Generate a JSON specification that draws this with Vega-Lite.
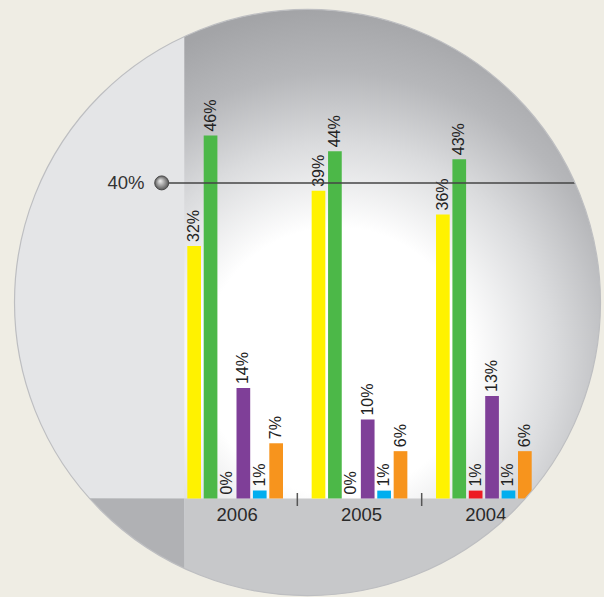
{
  "$schema": "https://vega.github.io/schema/vega-lite/v6.json",
  "width": 604,
  "height": 597,
  "padding": 0,
  "autosize": {"type": "none"},
  "background": "#efede4",
  "config": {"view": {"stroke": null}, "text": {"font": "Liberation Sans"}},
  "datasets": {
    "bars": [
      {"year": "2006", "cat": "c1", "value": 32, "label": "32%"},
      {"year": "2006", "cat": "c2", "value": 46, "label": "46%"},
      {"year": "2006", "cat": "c3", "value": 0, "label": "0%"},
      {"year": "2006", "cat": "c4", "value": 14, "label": "14%"},
      {"year": "2006", "cat": "c5", "value": 1, "label": "1%"},
      {"year": "2006", "cat": "c6", "value": 7, "label": "7%"},
      {"year": "2005", "cat": "c1", "value": 39, "label": "39%"},
      {"year": "2005", "cat": "c2", "value": 44, "label": "44%"},
      {"year": "2005", "cat": "c3", "value": 0, "label": "0%"},
      {"year": "2005", "cat": "c4", "value": 10, "label": "10%"},
      {"year": "2005", "cat": "c5", "value": 1, "label": "1%"},
      {"year": "2005", "cat": "c6", "value": 6, "label": "6%"},
      {"year": "2004", "cat": "c1", "value": 36, "label": "36%"},
      {"year": "2004", "cat": "c2", "value": 43, "label": "43%"},
      {"year": "2004", "cat": "c3", "value": 1, "label": "1%"},
      {"year": "2004", "cat": "c4", "value": 13, "label": "13%"},
      {"year": "2004", "cat": "c5", "value": 1, "label": "1%"},
      {"year": "2004", "cat": "c6", "value": 6, "label": "6%"}
    ],
    "seps": [{"year": "2006"}, {"year": "2005"}],
    "years": [{"year": "2006"}, {"year": "2005"}, {"year": "2004"}],
    "deco": [{}]
  },
  "resolve": {"scale": {"x": "independent"}},
  "layer": [
    {
      "data": {"name": "deco"},
      "layer": [
        {
          "mark": {"type": "point", "shape": "circle", "filled": true, "opacity": 1, "strokeWidth": 0, "size": 343396,
            "fill": {"gradient": "radial", "x1": 0.55, "y1": 0.6, "r1": 0, "x2": 0.55, "y2": 0.6, "r2": 0.6,
              "stops": [
                {"offset": 0, "color": "#ffffff"},
                {"offset": 0.38, "color": "#ffffff"},
                {"offset": 0.62, "color": "#dadbdd"},
                {"offset": 0.82, "color": "#b6b7ba"},
                {"offset": 1, "color": "#a3a4a7"}
              ]}},
          "encoding": {
            "x": {"datum": 307.5, "type": "quantitative", "scale": {"domain": [0, 604], "nice": false, "zero": false}, "axis": null},
            "y": {"datum": 24.84, "type": "quantitative", "scale": {"domain": [-12.484, 63.181], "nice": false, "zero": false}, "axis": null}
          }
        },
        {
          "mark": {"type": "rect", "color": "#e4e5e7"},
          "encoding": {
            "x": {"datum": 0, "type": "quantitative", "scale": {"domain": [0, 604], "nice": false, "zero": false}, "axis": null},
            "x2": {"datum": 184.3},
            "y": {"datum": 0, "type": "quantitative", "scale": {"domain": [-12.484, 63.181], "nice": false, "zero": false}, "axis": null},
            "y2": {"datum": 63.181}
          }
        },
        {
          "mark": {"type": "rect", "color": "#b0b1b4"},
          "encoding": {
            "x": {"datum": 0, "type": "quantitative", "scale": {"domain": [0, 604], "nice": false, "zero": false}, "axis": null},
            "x2": {"datum": 184.3},
            "y": {"datum": -12.484, "type": "quantitative", "scale": {"domain": [-12.484, 63.181], "nice": false, "zero": false}, "axis": null},
            "y2": {"datum": 0}
          }
        },
        {
          "mark": {"type": "rect", "color": "#c7c8ca"},
          "encoding": {
            "x": {"datum": 184.3, "type": "quantitative", "scale": {"domain": [0, 604], "nice": false, "zero": false}, "axis": null},
            "x2": {"datum": 604},
            "y": {"datum": -12.484, "type": "quantitative", "scale": {"domain": [-12.484, 63.181], "nice": false, "zero": false}, "axis": null},
            "y2": {"datum": 0}
          }
        }
      ]
    },
    {
      "layer": [
        {
          "data": {"name": "bars"},
          "mark": {"type": "bar"},
          "encoding": {
            "x": {"field": "year", "type": "nominal", "scale": {"domain": ["2006", "2005", "2004"], "paddingInner": 0, "paddingOuter": 0.9286, "align": 0.749}, "axis": null},
            "xOffset": {"field": "cat", "type": "nominal", "scale": {"domain": ["c1", "c2", "c3", "c4", "c5", "c6"], "paddingInner": 0.165, "paddingOuter": 0.8736}},
            "y": {"field": "value", "type": "quantitative", "scale": {"domain": [-12.484, 63.181], "nice": false, "zero": false}, "axis": null},
            "y2": {"datum": 0},
            "color": {"field": "cat", "type": "nominal", "legend": null,
              "scale": {"domain": ["c1", "c2", "c3", "c4", "c5", "c6"], "range": ["#fff200", "#4cb848", "#ed1c24", "#7f3f98", "#00aeef", "#f7941d"]}}
          }
        },
        {
          "data": {"name": "bars"},
          "mark": {"type": "text", "angle": 270, "align": "left", "baseline": "middle", "dx": 4, "fontSize": 16, "color": "#222222"},
          "encoding": {
            "x": {"field": "year", "type": "nominal", "scale": {"domain": ["2006", "2005", "2004"], "paddingInner": 0, "paddingOuter": 0.9286, "align": 0.749}, "axis": null},
            "xOffset": {"field": "cat", "type": "nominal", "scale": {"domain": ["c1", "c2", "c3", "c4", "c5", "c6"], "paddingInner": 0.165, "paddingOuter": 0.8736}},
            "y": {"field": "value", "type": "quantitative", "scale": {"domain": [-12.484, 63.181], "nice": false, "zero": false}, "axis": null},
            "text": {"field": "label"}
          }
        },
        {
          "data": {"name": "seps"},
          "mark": {"type": "rule", "color": "#555555", "strokeWidth": 1.5},
          "encoding": {
            "x": {"field": "year", "type": "nominal", "bandPosition": 1, "scale": {"domain": ["2006", "2005", "2004"], "paddingInner": 0, "paddingOuter": 0.9286, "align": 0.749}, "axis": null},
            "y": {"datum": 0.7, "type": "quantitative", "scale": {"domain": [-12.484, 63.181], "nice": false, "zero": false}, "axis": null},
            "y2": {"datum": -0.95}
          }
        },
        {
          "data": {"name": "years"},
          "mark": {"type": "text", "align": "center", "baseline": "middle", "dx": 2, "fontSize": 18.5, "color": "#2a2a2a"},
          "encoding": {
            "x": {"field": "year", "type": "nominal", "scale": {"domain": ["2006", "2005", "2004"], "paddingInner": 0, "paddingOuter": 0.9286, "align": 0.749}, "axis": null},
            "y": {"datum": -2.09, "type": "quantitative", "scale": {"domain": [-12.484, 63.181], "nice": false, "zero": false}, "axis": null},
            "text": {"field": "year"}
          }
        }
      ]
    },
    {
      "data": {"name": "deco"},
      "layer": [
        {
          "mark": {"type": "rule", "color": "#444444", "opacity": 0.75, "strokeWidth": 2},
          "encoding": {
            "x": {"datum": 162, "type": "quantitative", "scale": {"domain": [0, 604], "nice": false, "zero": false}, "axis": null},
            "x2": {"datum": 604},
            "y": {"datum": 40, "type": "quantitative", "scale": {"domain": [-12.484, 63.181], "nice": false, "zero": false}, "axis": null}
          }
        },
        {
          "mark": {"type": "point", "shape": "circle", "filled": true, "opacity": 1, "size": 196, "stroke": "#4a4a4a", "strokeWidth": 1,
            "fill": {"gradient": "radial", "x1": 0.38, "y1": 0.35, "r1": 0, "x2": 0.5, "y2": 0.5, "r2": 0.5,
              "stops": [
                {"offset": 0, "color": "#f4f4f4"},
                {"offset": 0.5, "color": "#a6a6a6"},
                {"offset": 1, "color": "#585858"}
              ]}},
          "encoding": {
            "x": {"datum": 161.7, "type": "quantitative", "scale": {"domain": [0, 604], "nice": false, "zero": false}, "axis": null},
            "y": {"datum": 40, "type": "quantitative", "scale": {"domain": [-12.484, 63.181], "nice": false, "zero": false}, "axis": null}
          }
        },
        {
          "mark": {"type": "text", "align": "right", "baseline": "middle", "fontSize": 18.5, "color": "#333333", "text": "40%"},
          "encoding": {
            "x": {"datum": 144.5, "type": "quantitative", "scale": {"domain": [0, 604], "nice": false, "zero": false}, "axis": null},
            "y": {"datum": 40, "type": "quantitative", "scale": {"domain": [-12.484, 63.181], "nice": false, "zero": false}, "axis": null}
          }
        },
        {
          "mark": {"type": "point", "shape": "circle", "filled": false, "opacity": 1, "size": 617796, "stroke": "#efede4", "strokeWidth": 200},
          "encoding": {
            "x": {"datum": 307.5, "type": "quantitative", "scale": {"domain": [0, 604], "nice": false, "zero": false}, "axis": null},
            "y": {"datum": 24.84, "type": "quantitative", "scale": {"domain": [-12.484, 63.181], "nice": false, "zero": false}, "axis": null}
          }
        },
        {
          "mark": {"type": "point", "shape": "circle", "filled": false, "opacity": 1, "size": 343396, "stroke": "#bdbec1", "strokeWidth": 1.2},
          "encoding": {
            "x": {"datum": 307.5, "type": "quantitative", "scale": {"domain": [0, 604], "nice": false, "zero": false}, "axis": null},
            "y": {"datum": 24.84, "type": "quantitative", "scale": {"domain": [-12.484, 63.181], "nice": false, "zero": false}, "axis": null}
          }
        }
      ]
    }
  ]
}
